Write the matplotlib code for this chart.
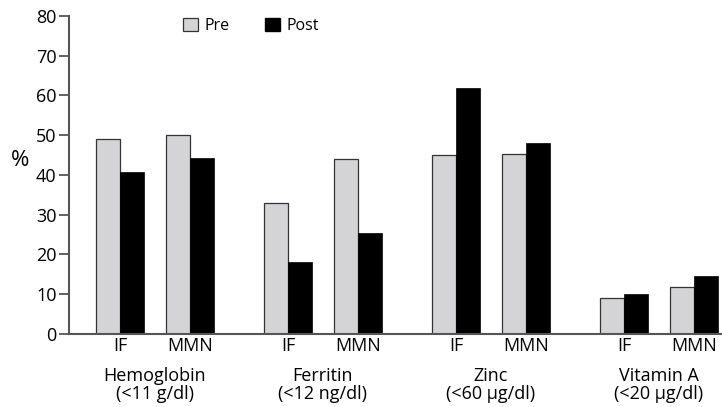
import matplotlib
matplotlib.use("Agg")
import matplotlib.pyplot as plt
from matplotlib.patches import Patch
import matplotlib.transforms as mtransforms

groups = ["Hemoglobin\n(<11 g/dl)", "Ferritin\n(<12 ng/dl)", "Zinc\n(<60 µg/dl)", "Vitamin A\n(<20 µg/dl)"]
arms = ["IF", "MMN"]
pre = [49.0, 50.0, 33.0, 44.1, 45.0, 45.2, 9.1, 11.7]
post = [40.7, 44.3, 18.0, 25.3, 61.9, 48.0, 10.1, 14.7]
yticks = [0, 10, 20, 30, 40, 50, 60, 70, 80]

plt.rcParams["font.family"] = ["Open Sans", "DejaVu Sans"]
fig = plt.figure(figsize=(7.22, 4.07), dpi=100)
ax = fig.add_axes([0.0956, 0.1794, 0.9044, 0.7813])

# IF/MMN centres inside a group, groups 7 bar-widths apart
pos = []
for g in range(len(groups)):
    pos += [g * 7.0, g * 7.0 + 2.9]
w = 1.0
grey = "#d4d4d6"
ax.bar([p - w / 2 for p in pos], pre, width=w, color=grey, edgecolor="#333333", lw=0.9, zorder=2)
ax.bar([p + w / 2 for p in pos], post, width=w, color="black", edgecolor="black", lw=0.5, zorder=2)

ax.set_xlim(-2.125, 25.08)
ax.set_ylim(0, 80)
ax.set_yticks(yticks)
ax.tick_params(axis="y", length=7, width=1.3, color="#555555", labelsize=13, pad=2)
ax.tick_params(axis="x", length=0)
ax.set_xticks([])
for s in ["top", "right"]:
    ax.spines[s].set_visible(False)
for s in ["left", "bottom"]:
    ax.spines[s].set_color("#555555")
    ax.spines[s].set_linewidth(1.5)

trans = mtransforms.blended_transform_factory(ax.transData, ax.transAxes)
for i, p in enumerate(pos):
    ax.text(p, -0.037, arms[i % 2], transform=trans, ha="center", va="center", fontsize=13)
for g, name in enumerate(groups):
    ax.text(g * 7.0 + 1.45, -0.16, name, transform=trans, ha="center", va="center",
            fontsize=13, linespacing=1.0)

ax.text(-0.075, 0.545, "%", transform=ax.transAxes, ha="center", va="center", fontsize=16)

handles = [Patch(facecolor=grey, edgecolor="#333333", lw=0.9, label="Pre"),
           Patch(facecolor="black", edgecolor="black", label="Post")]
ax.legend(handles=handles, loc="upper left", bbox_to_anchor=(0.153, 1.04), ncol=2,
          frameon=False, fontsize=11.5, handlelength=0.95, handleheight=0.95,
          columnspacing=2.2, handletextpad=0.4)

fig.savefig("out.png", dpi=100)
